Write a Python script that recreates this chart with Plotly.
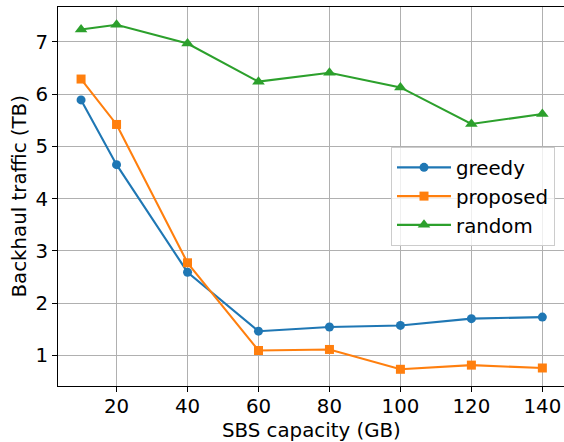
import plotly.graph_objects as go

capacity_gb = [10, 20, 40, 60, 80, 100, 120, 140]
greedy = [5.89, 4.65, 2.59, 1.46, 1.54, 1.57, 1.70, 1.73]
proposed = [6.29, 5.42, 2.77, 1.09, 1.11, 0.73, 0.81, 0.755]
random_ = [7.24, 7.33, 6.97, 6.24, 6.41, 6.13, 5.43, 5.62]

x_ticks = [20, 40, 60, 80, 100, 120, 140]
y_ticks = [1, 2, 3, 4, 5, 6, 7]

FONT = "DejaVu Sans"
FS = 19.8

L, R, T, B = 58, 0, 7, 56
W, H = 564, 442
PW, PH = W - L - R, H - T - B

fig = go.Figure()
series = [
    ("greedy", greedy, "#1f77b4", "circle", 9),
    ("proposed", proposed, "#ff7f0e", "square", 9),
    ("random", random_, "#2ca02c", "triangle-up", 11),
]
for name, vals, color, sym, size in series:
    fig.add_trace(go.Scatter(
        x=capacity_gb, y=vals, name=name, mode="lines+markers",
        line=dict(color=color, width=2.1),
        marker=dict(symbol=sym, size=size, color=color, line=dict(width=0)),
    ))

fig.update_layout(
    width=W, height=H,
    margin=dict(l=L, r=R, t=T, b=B),
    paper_bgcolor="white", plot_bgcolor="white",
    font=dict(family=FONT, size=FS, color="black"),
    showlegend=True,
    legend=dict(
        x=(391 - L) / PW, y=1 - (147 - T) / PH,
        xanchor="left", yanchor="top",
        bgcolor="rgba(255,255,255,0.8)", bordercolor="#cccccc", borderwidth=1,
        font=dict(family=FONT, size=FS),
        tracegroupgap=0, itemwidth=54,
    ),
    xaxis=dict(
        range=[3.5, 146.1], tickvals=x_ticks, ticktext=[str(v) for v in x_ticks],
        showgrid=True, gridcolor="#b0b0b0", gridwidth=1.1,
        showline=True, linecolor="black", linewidth=1.1, mirror=True,
        ticks="outside", ticklen=5, tickwidth=1.1, tickcolor="black",
        ticklabelstandoff=-3,
        zeroline=False, tickfont=dict(family=FONT, size=FS),
    ),
    yaxis=dict(
        range=[0.41, 7.67], tickvals=y_ticks, ticktext=[str(v) for v in y_ticks],
        showgrid=True, gridcolor="#b0b0b0", gridwidth=1.1,
        showline=True, linecolor="black", linewidth=1.1, mirror=False,
        ticks="outside", ticklen=5, tickwidth=1.1, tickcolor="black",
        zeroline=False, tickfont=dict(family=FONT, size=FS),
    ),
    annotations=[
        dict(text="SBS capacity (GB)", xref="paper", yref="paper",
             x=(311 - L) / PW, y=-(430 - (H - B)) / PH,
             xanchor="center", yanchor="middle", showarrow=False,
             font=dict(family=FONT, size=FS)),
        dict(text="Backhaul traffic (TB)", xref="paper", yref="paper",
             x=-(L - 19) / PW, y=0.5, textangle=-90,
             xanchor="center", yanchor="middle", showarrow=False,
             font=dict(family=FONT, size=FS)),
    ],
)

fig.write_html("out.html")
